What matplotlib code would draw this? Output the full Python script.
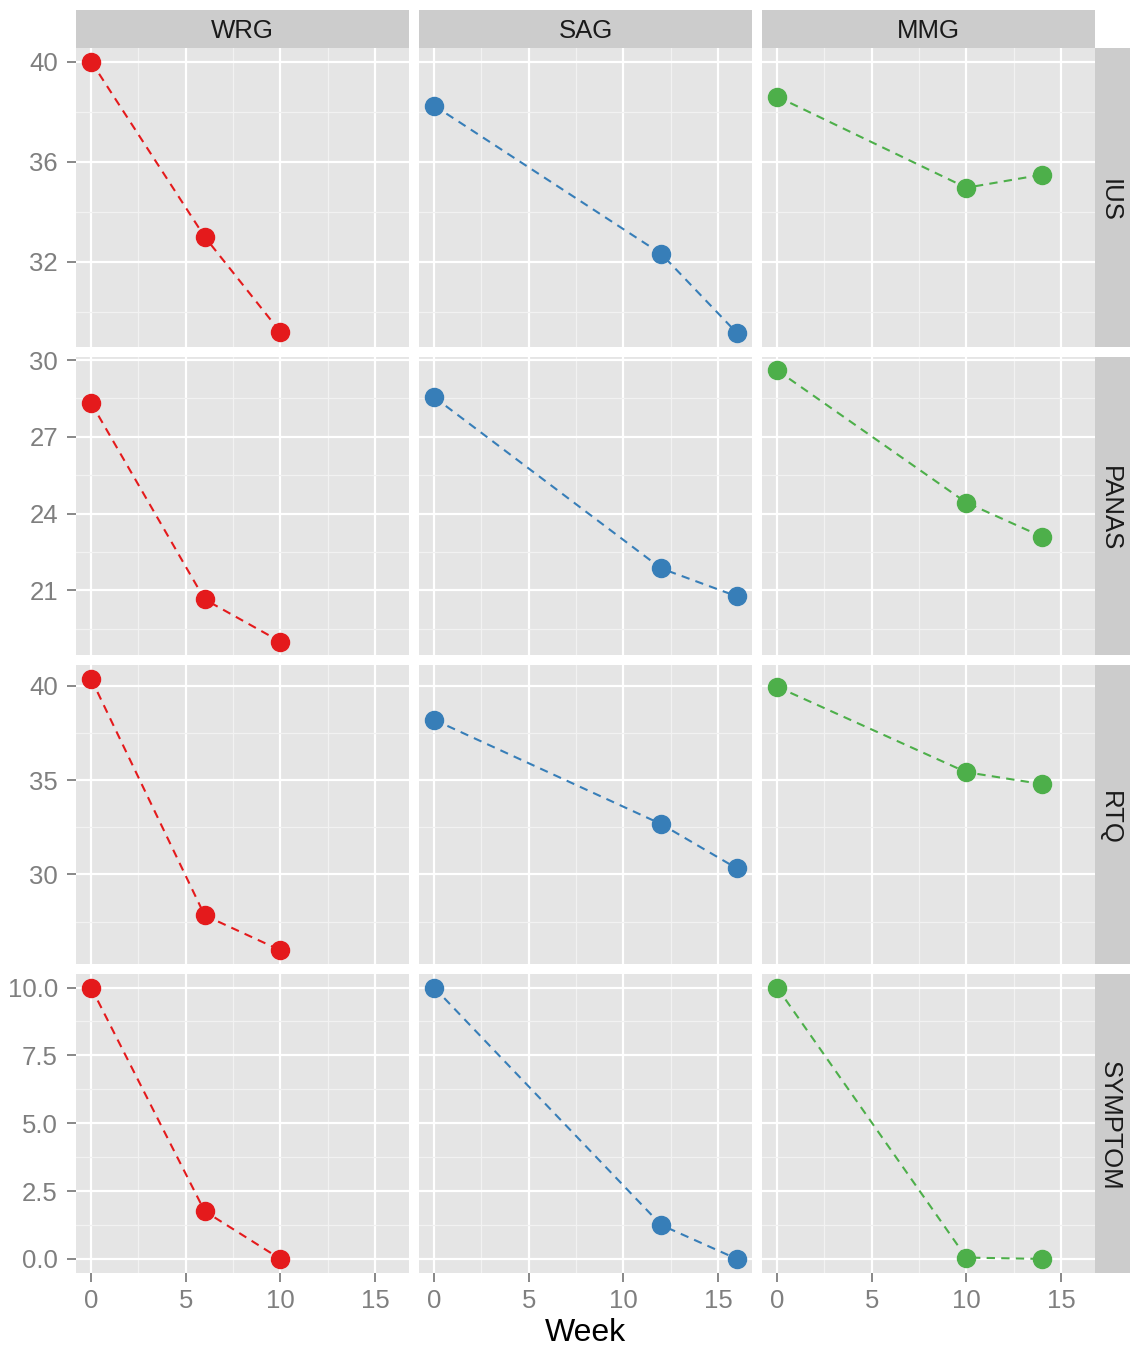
import matplotlib
matplotlib.use("Agg")
import matplotlib.pyplot as plt
from matplotlib.ticker import FixedLocator, FormatStrFormatter

plt.rcParams['font.family'] = ['Liberation Sans', 'DejaVu Sans']

# ---------------- data ----------------
groups = ["WRG", "SAG", "MMG"]
measures = ["IUS", "PANAS", "RTQ", "SYMPTOM"]
colors = {"WRG": "#E41A1C", "SAG": "#377EB8", "MMG": "#4DAF4A"}

weeks_WRG = [0, 6, 10]
weeks_SAG = [0, 12, 16]
weeks_MMG = [0, 10, 14]

IUS_WRG = [40.0, 33.0, 29.2]
IUS_SAG = [38.24, 32.32, 29.16]
IUS_MMG = [38.6, 34.96, 35.48]

PANAS_WRG = [28.32, 20.65, 19.0]
PANAS_SAG = [28.55, 21.86, 20.77]
PANAS_MMG = [29.6, 24.43, 23.1]

RTQ_WRG = [40.37, 27.83, 25.98]
RTQ_SAG = [38.2, 32.67, 30.32]
RTQ_MMG = [39.95, 35.42, 34.79]

SYMPTOM_WRG = [10.0, 1.76, 0.0]
SYMPTOM_SAG = [10.0, 1.25, 0.0]
SYMPTOM_MMG = [10.0, 0.05, 0.0]

weeks = {"WRG": weeks_WRG, "SAG": weeks_SAG, "MMG": weeks_MMG}
values = {
    "IUS": {"WRG": IUS_WRG, "SAG": IUS_SAG, "MMG": IUS_MMG},
    "PANAS": {"WRG": PANAS_WRG, "SAG": PANAS_SAG, "MMG": PANAS_MMG},
    "RTQ": {"WRG": RTQ_WRG, "SAG": RTQ_SAG, "MMG": RTQ_MMG},
    "SYMPTOM": {"WRG": SYMPTOM_WRG, "SAG": SYMPTOM_SAG, "MMG": SYMPTOM_MMG},
}

x_ticks = [0, 5, 10, 15]
x_minor = [2.5, 7.5, 12.5]
y_ticks = {
    "IUS": [32, 36, 40],
    "PANAS": [21, 24, 27, 30],
    "RTQ": [30, 35, 40],
    "SYMPTOM": [0.0, 2.5, 5.0, 7.5, 10.0],
}
y_minor = {
    "IUS": [30, 34, 38],
    "PANAS": [19.5, 22.5, 25.5, 28.5],
    "RTQ": [27.5, 32.5, 37.5],
    "SYMPTOM": [1.25, 3.75, 6.25, 8.75],
}
y_fmt = {"IUS": "%d", "PANAS": "%d", "RTQ": "%d", "SYMPTOM": "%.1f"}

# ---------------- layout (pixels) ----------------
W, H = 1130, 1349
fig = plt.figure(figsize=(W / 100, H / 100), dpi=100)

col_left = [76, 419, 762]
col_w = 333
row_top = [48, 356.7, 665.3, 974]
row_h = 298.5
strip_top_y = 10
strip_right_x = 1095

def ax_rect(x0, y0, w, h):
    return [x0 / W, 1 - (y0 + h) / H, w / W, h / H]

panel_bg = "#E5E5E5"
grey50 = "#7F7F7F"

xmin_all = min(min(v) for v in weeks.values())
xmax_all = max(max(v) for v in weeks.values())
xpad = 0.05 * (xmax_all - xmin_all)

for r, m in enumerate(measures):
    allv = [v for g in groups for v in values[m][g]]
    lo, hi = min(allv), max(allv)
    ypad = 0.05 * (hi - lo)
    for c, g in enumerate(groups):
        ax = fig.add_axes(ax_rect(col_left[c], row_top[r], col_w, row_h))
        ax.set_facecolor(panel_bg)
        for s in ax.spines.values():
            s.set_visible(False)
        ax.set_xlim(xmin_all - xpad, xmax_all + xpad)
        ax.set_ylim(lo - ypad, hi + ypad)
        ax.xaxis.set_major_locator(FixedLocator(x_ticks))
        ax.xaxis.set_minor_locator(FixedLocator(x_minor))
        ax.yaxis.set_major_locator(FixedLocator(y_ticks[m]))
        ax.yaxis.set_minor_locator(FixedLocator(y_minor[m]))
        ax.yaxis.set_major_formatter(FormatStrFormatter(y_fmt[m]))
        ax.grid(which="major", color="white", linewidth=1.6)
        ax.grid(which="minor", color="#F2F2F2", linewidth=0.9)
        ax.set_axisbelow(True)
        ax.tick_params(which="minor", length=0)
        ax.tick_params(which="major", length=6.5, width=1.3, color=grey50,
                       labelcolor=grey50, labelsize=18.5)
        ax.tick_params(axis="x", which="major", pad=5.5)
        ax.tick_params(axis="y", which="major", pad=6.5)
        if c != 0:
            ax.tick_params(axis="y", which="major", length=0, labelleft=False)
        if r != len(measures) - 1:
            ax.tick_params(axis="x", which="major", length=0, labelbottom=False)

        col = colors[g]
        ax.plot(weeks[g], values[m][g], color=col, linestyle="--",
                dashes=(4, 3), linewidth=1.5, zorder=2)
        ax.plot(weeks[g], values[m][g], color=col, linestyle="none",
                marker="o", markersize=13, zorder=3)

        # top strips
        if r == 0:
            sax = fig.add_axes(ax_rect(col_left[c], strip_top_y, col_w,
                                       row_top[0] - strip_top_y))
            sax.set_facecolor("#CCCCCC")
            sax.set_xticks([]); sax.set_yticks([])
            for s in sax.spines.values():
                s.set_visible(False)
            sax.text(0.5, 0.44, g, ha="center", va="center", fontsize=18.5,
                     color="#1A1A1A", transform=sax.transAxes)

    # right strips
    rax = fig.add_axes(ax_rect(strip_right_x, row_top[r], W - strip_right_x, row_h))
    rax.set_facecolor("#CCCCCC")
    rax.set_xticks([]); rax.set_yticks([])
    for s in rax.spines.values():
        s.set_visible(False)
    rax.text(0.42, 0.49, m, ha="center", va="center", fontsize=18.5,
             color="#1A1A1A", rotation=270, transform=rax.transAxes)

fig.text((col_left[1] + col_w / 2) / W, 1 - 1333 / H, "Week",
         ha="center", va="center", fontsize=23, color="black")

fig.savefig("out.png", dpi=100)
